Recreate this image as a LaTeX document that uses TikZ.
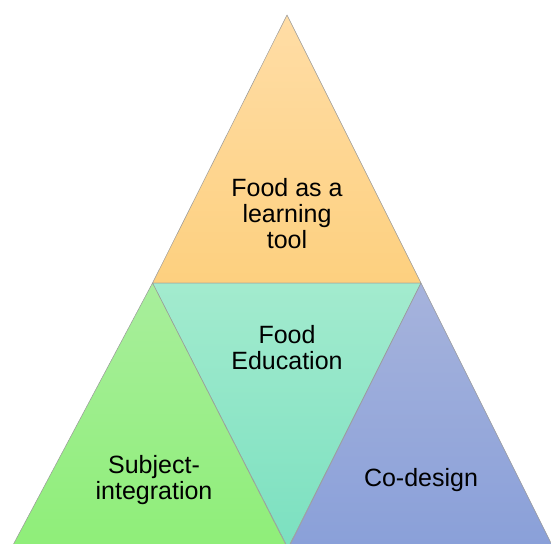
\documentclass[tikz,border=0pt]{standalone}
\usepackage{fontspec}
\setmainfont{Liberation Sans}
\usetikzlibrary{positioning}

\definecolor{toptop}{HTML}{FFDDA6}
\definecolor{topbot}{HTML}{FDD07F}
\definecolor{midtop}{HTML}{A3EBCE}
\definecolor{midbot}{HTML}{7BE0C0}
\definecolor{lefttop}{HTML}{A8EE9C}
\definecolor{leftbot}{HTML}{8FEE79}
\definecolor{righttop}{HTML}{A6B3DC}
\definecolor{rightbot}{HTML}{8AA0D9}

\tikzset{
    tri/.style={draw=gray!80,line width=0.5pt,line join=round},
    label text/.style={align=center,font=\fontsize{25}{26}\selectfont,inner sep=0pt}
}

\begin{document}
\begin{tikzpicture}[x=1pt,y=-1pt]
    \useasboundingbox (0,0) rectangle (551,543);

    % corners of the pyramid
    \coordinate (apex) at (287,15);
    \coordinate (ML) at (152.5,283);
    \coordinate (MR) at (421,283);
    \coordinate (BL) at (13,545);
    \coordinate (BM) at (288,548);
    \coordinate (BR) at (552,545);
    \coordinate (BMl) at (286,545);
    \coordinate (BMr) at (290,545);

    % top triangle
    \shade [tri,top color=toptop,bottom color=topbot] (apex) -- (ML) -- (MR) -- cycle;
    % upside-down middle triangle
    \shade [tri,top color=midtop,bottom color=midbot] (ML) -- (MR) -- (BM) -- cycle;
    % bottom left triangle
    \shade [tri,top color=lefttop,bottom color=leftbot] (ML) -- (BMl) -- (BL) -- cycle;
    % bottom right triangle
    \shade [tri,top color=righttop,bottom color=rightbot] (MR) -- (BR) -- (BMr) -- cycle;

    % labels
    \node [label text] (tool) at (287,214) {Food as a\\learning\\tool};
    \node [label text] (edu) at (287,348) {Food\\Education};
    \node [label text] (subject) at (154,480) {Subject-\\integration};
    \node [label text] (codesign) at (421,480) {Co-design};
\end{tikzpicture}
\end{document}
